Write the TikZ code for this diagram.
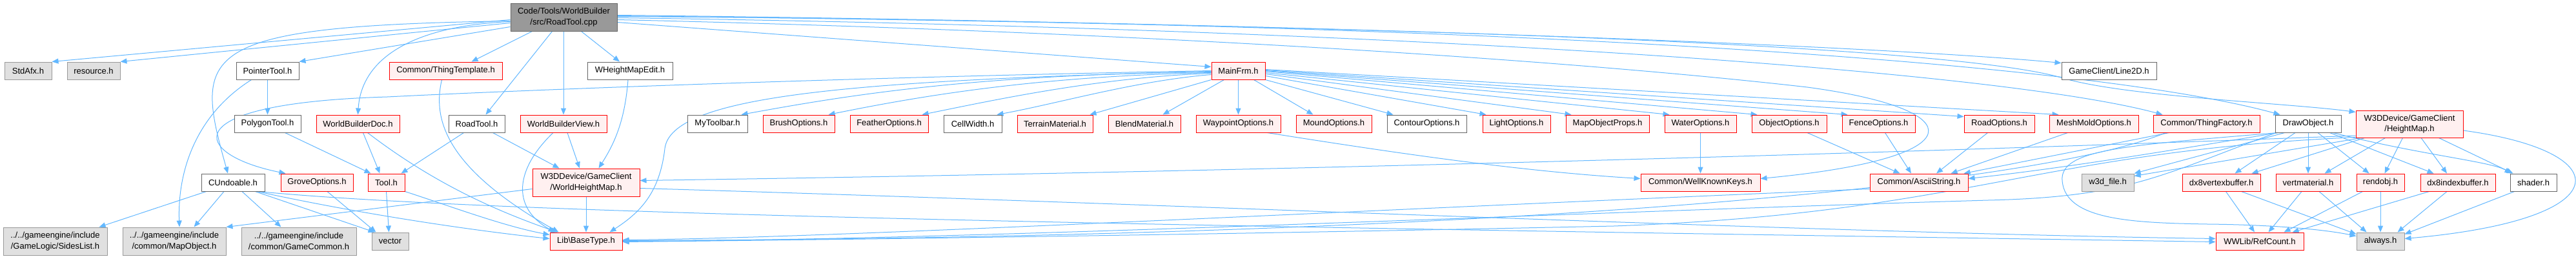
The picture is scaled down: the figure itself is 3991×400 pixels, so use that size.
\documentclass[tikz,border=0pt]{standalone}
\usepackage{fontspec}
\setmainfont{Liberation Sans}
\usetikzlibrary{arrows.meta,calc}
\definecolor{edgeblue}{RGB}{99,184,255}
\definecolor{nodered}{RGB}{255,0,0}
\definecolor{nodepink}{HTML}{FFF0F0}
\definecolor{nodegray}{HTML}{666666}
\definecolor{graybord}{HTML}{999999}
\definecolor{grayfill}{HTML}{E0E0E0}
\definecolor{rootfill}{HTML}{999999}
\pgfdeclarelayer{bg}
\pgfsetlayers{bg,main}
\begin{document}
\begin{tikzpicture}[x=1pt,y=-1pt,
  box/.style={draw, rectangle, inner sep=0pt, minimum height=27pt, line width=1pt,
    font=\fontsize{13}{16.5}\selectfont, align=center, text=black},
  redbox/.style={box, draw=nodered, fill=nodepink},
  whitebox/.style={box, draw=nodegray, fill=white},
  graybox/.style={box, draw=graybord, fill=grayfill},
  rootbox/.style={box, draw=nodegray, fill=rootfill},
  edgeline/.style={draw=edgeblue, line width=1pt, -{Triangle[length=10pt,width=8pt]}}]
\useasboundingbox (0,0) rectangle (3991,400);

% ---- nodes
\node[rootbox,minimum width=165pt,minimum height=43pt] (root) at (873.5,26.5) {Code/Tools/WorldBuilder\\/src/RoadTool.cpp};
% row 1
\node[graybox,minimum width=73pt] (stdafx) at (43.5,109.5) {StdAfx.h};
\node[graybox,minimum width=82pt] (resource) at (145,109.5) {resource.h};
\node[whitebox,minimum width=97pt] (pointertool) at (414.5,109.5) {PointerTool.h};
\node[redbox,minimum width=175pt] (thingtemplate) at (690.5,109.5) {Common/ThingTemplate.h};
\node[whitebox,minimum width=132pt] (wheightmapedit) at (976,109.5) {WHeightMapEdit.h};
\node[redbox,minimum width=83pt] (mainfrm) at (1918.5,109.5) {MainFrm.h};
\node[whitebox,minimum width=147pt] (line2d) at (3267.5,109.5) {GameClient/Line2D.h};
% row 2
\node[whitebox,minimum width=103pt] (polygontool) at (414.5,191.5) {PolygonTool.h};
\node[redbox,minimum width=129pt] (wbdoc) at (554.5,191.5) {WorldBuilderDoc.h};
\node[whitebox,minimum width=87pt] (roadtoolh) at (738.5,191.5) {RoadTool.h};
\node[redbox,minimum width=134pt] (wbview) at (873,191.5) {WorldBuilderView.h};
\node[whitebox,minimum width=93pt] (mytoolbar) at (1111.5,191.5) {MyToolbar.h};
\node[redbox,minimum width=111pt] (brush) at (1237.5,191.5) {BrushOptions.h};
\node[redbox,minimum width=121pt] (feather) at (1377.5,191.5) {FeatherOptions.h};
\node[whitebox,minimum width=90pt] (cellwidth) at (1507,191.5) {CellWidth.h};
\node[redbox,minimum width=117pt] (terrain) at (1634.5,191.5) {TerrainMaterial.h};
\node[redbox,minimum width=112pt] (blend) at (1773,191.5) {BlendMaterial.h};
\node[redbox,minimum width=131pt] (waypoint) at (1918.5,191.5) {WaypointOptions.h};
\node[redbox,minimum width=117pt] (mound) at (2066.5,191.5) {MoundOptions.h};
\node[whitebox,minimum width=123pt] (contour) at (2210.5,191.5) {ContourOptions.h};
\node[redbox,minimum width=105pt] (light) at (2349.5,191.5) {LightOptions.h};
\node[redbox,minimum width=129pt] (mapobjprops) at (2490.5,191.5) {MapObjectProps.h};
\node[redbox,minimum width=111pt] (water) at (2634.5,191.5) {WaterOptions.h};
\node[redbox,minimum width=116pt] (objectopt) at (2772,191.5) {ObjectOptions.h};
\node[redbox,minimum width=113pt] (fence) at (2910.5,191.5) {FenceOptions.h};
\node[redbox,minimum width=109pt] (roadopt) at (3097.5,191.5) {RoadOptions.h};
\node[redbox,minimum width=138pt] (meshmold) at (3244,191.5) {MeshMoldOptions.h};
\node[redbox,minimum width=165pt] (thingfactory) at (3418.5,191.5) {Common/ThingFactory.h};
\node[whitebox,minimum width=102pt] (drawobject) at (3576,191.5) {DrawObject.h};
\node[redbox,minimum width=166pt,minimum height=42pt] (heightmap) at (3733,192) {W3DDevice/GameClient\\/HeightMap.h};
% row 3
\node[whitebox,minimum width=98pt] (cundoable) at (361,282.5) {CUndoable.h};
\node[redbox,minimum width=112pt] (grove) at (491,282.5) {GroveOptions.h};
\node[redbox,minimum width=57pt] (tool) at (598.5,282.5) {Tool.h};
\node[redbox,minimum width=166pt,minimum height=43pt] (worldheightmap) at (908,282.5) {W3DDevice/GameClient\\/WorldHeightMap.h};
\node[redbox,minimum width=185pt] (wellknown) at (2634.5,282.5) {Common/WellKnownKeys.h};
\node[redbox,minimum width=152pt] (ascii) at (2973,282.5) {Common/AsciiString.h};
\node[graybox,minimum width=81pt] (w3dfile) at (3265.5,282.5) {w3d\_file.h};
\node[redbox,minimum width=121pt] (dx8vb) at (3441.5,282.5) {dx8vertexbuffer.h};
\node[redbox,minimum width=100pt] (vertmat) at (3576,282.5) {vertmaterial.h};
\node[redbox,minimum width=74pt] (rendobj) at (3688,282.5) {rendobj.h};
\node[redbox,minimum width=116pt] (dx8ib) at (3808,282.5) {dx8indexbuffer.h};
\node[whitebox,minimum width=72pt] (shader) at (3925,282.5) {shader.h};
% row 4
\node[graybox,minimum width=161pt,minimum height=43pt] (sideslist) at (85.5,373.5) {../../gameengine/include\\/GameLogic/SidesList.h};
\node[graybox,minimum width=160pt,minimum height=43pt] (mapobject) at (270,373.5) {../../gameengine/include\\/common/MapObject.h};
\node[graybox,minimum width=178pt,minimum height=43pt] (gamecommon) at (463,373.5) {../../gameengine/include\\/common/GameCommon.h};
\node[graybox,minimum width=57pt] (vector) at (604.5,373.5) {vector};
\node[redbox,minimum width=112pt] (basetype) at (908,373.5) {Lib\textbackslash BaseType.h};
\node[redbox,minimum width=136pt] (refcount) at (3501,373.5) {WWLib/RefCount.h};
\node[graybox,minimum width=74pt] (always) at (3688,373.5) {always.h};

\begin{pgfonlayer}{bg}
\fill[white] (0,0) rectangle (3991,400);
% ---- root
\draw[edgeline] ($(root.west)+(0,4)$) -- (stdafx.north east);
\draw[edgeline] ($(root.west)+(0,9)$) -- (resource.north east);
\draw[edgeline] ($(root.west)+(0,15)$) -- (pointertool.north east);
\draw[edgeline] ($(root.west)+(0,6)$) .. controls (300,40) and (300,80) .. ($(cundoable.north)+(-8,0)$);
\draw[edgeline] ($(root.west)+(0,7)$) .. controls (640,40) and (560,90) .. (wbdoc.north);
\draw[edgeline] ($(root.south west)+(34,0)$) -- ($(thingtemplate.north east)+(-48,0)$);
\draw[edgeline] ($(root.south)+(-18,0)$) -- ($(roadtoolh.north east)+(-30,0)$);
\draw[edgeline] ($(root.south)+(-0.5,0)$) -- (wbview.north);
\draw[edgeline] ($(root.south)+(27,0)$) -- ($(wheightmapedit.north)+(-16,0)$);
\draw[edgeline] ($(root.east)+(0,8)$) -- ($(mainfrm.west)+(0,-6)$);
\draw[edgeline] ($(root.east)+(0,-3)$) .. controls (2000,35) and (2900,70) .. ($(line2d.west)+(0,-12)$);
\draw[edgeline] ($(root.east)+(0,4)$) .. controls (1800,50) and (2450,95) .. (2800,135) .. controls (3060,170) and (3060,245) .. ($(wellknown.east)+(0,-6)$);
\draw[edgeline] ($(root.east)+(0,1)$) .. controls (2200,45) and (3100,110) .. ($(thingfactory.north west)+(15,0)$);
\draw[edgeline] ($(root.east)+(0,-1)$) .. controls (2400,35) and (3250,100) .. ($(drawobject.north west)+(8,0)$);
\draw[edgeline] ($(root.east)+(0,-2)$) .. controls (2300,40) and (3050,75) .. (3200,122) .. controls (3300,150) and (3550,160) .. ($(heightmap.north west)+(0,3)$);
% ---- MainFrm
\draw[edgeline] ($(mainfrm.west)+(0,2)$) .. controls (1500,115) and (1300,150) .. ($(mytoolbar.north east)+(-10,0)$);
\draw[edgeline] ($(mainfrm.west)+(0,3)$) .. controls (1600,118) and (1420,150) .. ($(brush.north east)+(-10,0)$);
\draw[edgeline] ($(mainfrm.west)+(0,4)$) .. controls (1700,120) and (1540,155) .. ($(feather.north east)+(-10,0)$);
\draw[edgeline] ($(mainfrm.west)+(0,6)$) .. controls (1760,125) and (1640,160) .. ($(cellwidth.north east)+(-8,0)$);
\draw[edgeline] (mainfrm.south west) -- ($(terrain.north east)+(-5,0)$);
\draw[edgeline] ($(mainfrm.south)+(-22,0)$) -- ($(blend.north east)+(-28,0)$);
\draw[edgeline] (mainfrm.south) -- (waypoint.north);
\draw[edgeline] ($(mainfrm.south)+(24,0)$) -- ($(mound.north west)+(27,0)$);
\draw[edgeline] (mainfrm.south east) -- ($(contour.north west)+(10,0)$);
\draw[edgeline] ($(mainfrm.east)+(0,8)$) -- ($(light.north west)+(6,0)$);
\draw[edgeline] ($(mainfrm.east)+(0,5)$) -- ($(mapobjprops.north west)+(9,0)$);
\draw[edgeline] ($(mainfrm.east)+(0,3)$) -- ($(water.north west)+(8,0)$);
\draw[edgeline] ($(mainfrm.east)+(0,1)$) -- ($(objectopt.north west)+(9,0)$);
\draw[edgeline] ($(mainfrm.east)+(0,0)$) -- ($(fence.north west)+(9,0)$);
\draw[edgeline] ($(mainfrm.east)+(0,-1)$) -- ($(roadopt.north west)+(0,3)$);
\draw[edgeline] ($(mainfrm.east)+(0,-2)$) -- ($(meshmold.north west)+(15,0)$);
\draw[edgeline] (mainfrm.west) .. controls (1300,120) and (800,140) .. (600,150) .. controls (260,160) and (300,240) .. ($(grove.north west)+(8,0)$);
\draw[edgeline] ($(mainfrm.west)+(0,1)$) .. controls (1300,125) and (1040,150) .. (1030,230) .. controls (1022,300) and (990,330) .. ($(basetype.north east)+(-20,0)$);
% ---- left cluster
\draw[edgeline] (pointertool.south) -- (polygontool.north);
\draw[edgeline] ($(pointertool.south)+(-25,0)$) .. controls (300,180) and (275,270) .. ($(mapobject.north)+(8,0)$);
\draw[edgeline] ($(polygontool.south east)+(-25,0)$) -- ($(tool.north west)+(5,0)$);
\draw[edgeline] ($(wbdoc.south)+(8,0)$) -- ($(tool.north)+(-10,0)$);
\draw[edgeline] ($(wbdoc.south)+(15,0)$) .. controls (680,290) and (780,330) .. ($(basetype.north west)+(12,0)$);
\draw[edgeline] ($(roadtoolh.south)+(-20,0)$) -- ($(tool.north east)+(-6,0)$);
\draw[edgeline] ($(roadtoolh.south)+(25,0)$) -- ($(worldheightmap.north west)+(42,0)$);
\draw[edgeline] ($(wbview.south)+(6,0)$) -- ($(worldheightmap.north)+(-10,0)$);
\draw[edgeline] ($(wbview.south)+(-16,0)$) .. controls (800,260) and (790,320) .. ($(basetype.north west)+(8,0)$);
\draw[edgeline] ($(wheightmapedit.south)+(-3,0)$) .. controls (968,190) and (950,225) .. ($(worldheightmap.north east)+(-64,0)$);
\draw[edgeline] ($(thingtemplate.south west)+(82,0)$) .. controls (670,185) and (690,260) .. ($(basetype.north west)+(14,0)$);
\draw[edgeline] (worldheightmap.south) -- (basetype.north);
\draw[edgeline] ($(worldheightmap.west)+(0,10)$) -- (mapobject.north east);
\draw[edgeline] ($(worldheightmap.east)+(0,9)$) .. controls (1800,315) and (2800,360) .. ($(refcount.west)+(0,-4)$);
\draw[edgeline] ($(cundoable.south west)+(8,0)$) -- ($(sideslist.north east)+(-13,0)$);
\draw[edgeline] ($(cundoable.south)+(-14,0)$) -- ($(mapobject.north east)+(-50,0)$);
\draw[edgeline] ($(cundoable.south)+(14,0)$) -- ($(gamecommon.north west)+(62,0)$);
\draw[edgeline] ($(cundoable.south east)+(-15,0)$) -- ($(vector.north west)+(5,0)$);
\draw[edgeline] ($(cundoable.south east)+(-12,0)$) .. controls (600,340) and (780,362) .. ($(basetype.west)+(0,-4)$);
\draw[edgeline] ($(cundoable.south east)+(-10,0)$) .. controls (800,335) and (2000,352) .. ($(refcount.west)+(0,1)$);
\draw[edgeline] ($(grove.south)+(16,0)$) -- ($(vector.north)+(-22,0)$);
\draw[edgeline] (tool.south) -- ($(vector.north)+(-2,0)$);
\draw[edgeline] (tool.south east) .. controls (700,320) and (780,350) .. ($(basetype.west)+(0,-10)$);
% ---- right cluster
\draw[edgeline] ($(waypoint.south east)+(-21,0)$) .. controls (2150,235) and (2350,265) .. ($(wellknown.west)+(0,-6)$);
\draw[edgeline] (water.south) -- (wellknown.north);
\draw[edgeline] ($(objectopt.south)+(28,0)$) -- ($(ascii.north west)+(47,0)$);
\draw[edgeline] ($(fence.south)+(10,0)$) -- ($(ascii.north)+(-12,0)$);
\draw[edgeline] ($(roadopt.south)+(-18,0)$) -- ($(ascii.north)+(27,0)$);
\draw[edgeline] ($(meshmold.south west)+(29,0)$) -- ($(ascii.north east)+(-27,0)$);
\draw[edgeline] ($(ascii.west)+(0,10)$) .. controls (2000,330) and (1300,368) .. ($(basetype.east)+(0,-2)$);
\draw[edgeline] ($(thingfactory.south west)+(25,0)$) -- ($(ascii.north east)+(-7,0)$);
\draw[edgeline] ($(thingfactory.south west)+(20,0)$) .. controls (3150,290) and (2300,368) .. ($(basetype.east)+(0,-1)$);
\draw[edgeline] ($(drawobject.south west)+(5,0)$) .. controls (3350,235) and (3200,260) .. ($(ascii.east)+(0,-6)$);
\draw[edgeline] ($(drawobject.south west)+(2,0)$) .. controls (3350,270) and (3300,305) .. (3080,310) .. controls (2400,330) and (1500,372) .. ($(basetype.east)+(0,0)$);
\draw[edgeline] ($(drawobject.south west)+(15,0)$) -- (w3dfile.north east);
\draw[edgeline] (drawobject.south) -- (vertmat.north);
\draw[edgeline] ($(drawobject.south)+(-20,0)$) -- ($(dx8vb.north)+(21,0)$);
\draw[edgeline] ($(drawobject.south)+(15,0)$) -- ($(rendobj.north west)+(20,0)$);
\draw[edgeline] ($(drawobject.south east)+(-18,0)$) -- ($(dx8ib.north west)+(21,0)$);
\draw[edgeline] ($(drawobject.south east)+(-13,0)$) .. controls (3750,240) and (3860,250) .. ($(shader.north west)+(2,0)$);
\draw[edgeline] ($(drawobject.south west)+(4,0)$) .. controls (3300,225) and (3190,230) .. (3195,280) .. controls (3200,340) and (3300,345) .. (3420,347) .. controls (3520,348) and (3600,355) .. ($(always.west)+(0,-8)$);
\draw[edgeline] ($(heightmap.west)+(0,18)$) .. controls (3000,235) and (2000,265) .. ($(worldheightmap.east)+(0,-3)$);
\draw[edgeline] ($(heightmap.south west)+(0,-1)$) .. controls (3150,235) and (3050,330) .. (2500,350) .. controls (1800,365) and (1200,372) .. ($(basetype.east)+(0,1)$);
\draw[edgeline] ($(heightmap.south west)+(9,0)$) -- ($(w3dfile.east)+(0,-10)$);
\draw[edgeline] ($(heightmap.south west)+(14,0)$) -- ($(dx8vb.north east)+(-14,0)$);
\draw[edgeline] ($(heightmap.south west)+(46,0)$) -- ($(vertmat.north east)+(-25,0)$);
\draw[edgeline] ($(heightmap.south west)+(73,0)$) -- ($(rendobj.north east)+(-31,0)$);
\draw[edgeline] ($(heightmap.south)+(18,0)$) -- ($(dx8ib.north)+(-17,0)$);
\draw[edgeline] ($(heightmap.south east)+(-38,0)$) -- ($(shader.north west)+(5,0)$);
\draw[edgeline] ($(heightmap.east)+(0,10)$) .. controls (4060,235) and (4060,340) .. ($(always.east)+(0,-4)$);
\draw[edgeline] ($(dx8vb.south)+(7,0)$) -- ($(refcount.north)+(-8,0)$);
\draw[edgeline] ($(dx8vb.south east)+(-30,0)$) -- ($(always.north west)+(0,3)$);
\draw[edgeline] ($(vertmat.south)+(-10,0)$) -- ($(refcount.north east)+(-55,0)$);
\draw[edgeline] ($(vertmat.south)+(17,0)$) -- ($(always.north west)+(16,0)$);
\draw[edgeline] ($(rendobj.south west)+(10,0)$) -- ($(refcount.north east)+(-31,0)$);
\draw[edgeline] (rendobj.south) -- (always.north);
\draw[edgeline] ($(dx8ib.south west)+(14,0)$) -- ($(refcount.north east)+(-18,0)$);
\draw[edgeline] ($(dx8ib.south)+(-17,0)$) -- ($(always.north east)+(-11,0)$);
\draw[edgeline] ($(shader.south west)+(7,0)$) -- ($(always.north east)+(0,3)$);
\end{pgfonlayer}
\end{tikzpicture}
\end{document}
